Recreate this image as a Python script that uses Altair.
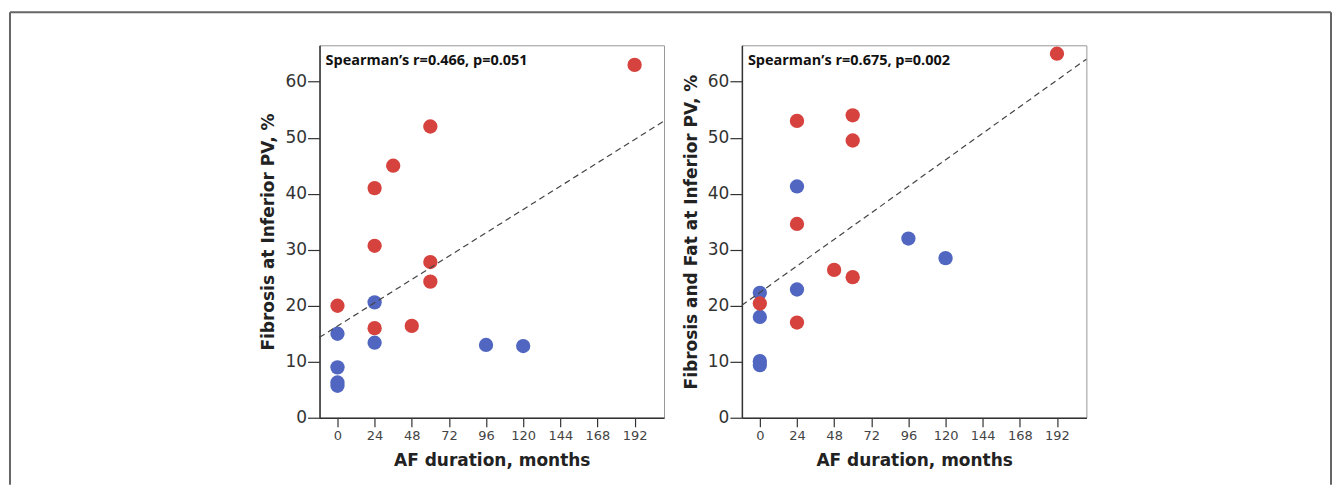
import altair as alt
import pandas as pd

# ---- data ----
p1_red_x = [192, 60, 36, 24, 24, 60, 60, 0, 24, 48]
p1_red_y = [63.0, 52.0, 45.0, 41.0, 30.7, 27.8, 24.3, 20.0, 16.0, 16.4]
p1_blue_x = [24, 0, 24, 96, 120, 0, 0, 0]
p1_blue_y = [20.6, 15.0, 13.4, 13.0, 12.8, 9.0, 6.3, 5.7]

p2_red_x = [192, 24, 60, 60, 24, 48, 60, 0, 24]
p2_red_y = [65.0, 53.0, 54.0, 49.5, 34.6, 26.4, 25.1, 20.4, 17.0]
p2_blue_x = [24, 96, 120, 0, 24, 0, 0, 0]
p2_blue_y = [41.3, 32.0, 28.5, 22.3, 22.9, 18.0, 10.1, 9.4]

x_ticks = [0, 24, 48, 72, 96, 120, 144, 168, 192]
y_ticks = [0, 10, 20, 30, 40, 50, 60]
x_title = "AF duration, months"
y_titles = ["Fibrosis at Inferior PV, %", "Fibrosis and Fat at Inferior PV, %"]
notes = ["Spearman\u2019s r=0.466, p=0.051", "Spearman\u2019s r=0.675, p=0.002"]

RED = "#D6423E"
BLUE = "#5066C0"
X_DOM = [-11.6, 211]
Y_DOM = [0, 66.5]
W, H = 345, 373


def frame(rx, ry, bx, by):
    rows = [{"x": a, "y": b, "g": "blue"} for a, b in zip(bx, by)]
    rows += [{"x": a, "y": b, "g": "red"} for a, b in zip(rx, ry)]
    return pd.DataFrame(rows)


def panel(df, ytitle, note, with_border=False):
    xs = alt.Scale(domain=X_DOM, nice=False, zero=False)
    ys = alt.Scale(domain=Y_DOM, nice=False)
    base = alt.Chart(df)
    pts = base.mark_point(filled=True, size=205, opacity=1).encode(
        x=alt.X("x:Q", scale=xs, title=x_title,
                axis=alt.Axis(values=x_ticks, tickSize=9, labelPadding=3,
                              labelFontSize=13, labelColor="#444",
                              titlePadding=10, grid=False)),
        y=alt.Y("y:Q", scale=ys, title=ytitle,
                axis=alt.Axis(values=y_ticks, tickSize=12, labelPadding=1,
                              labelFontSize=17, labelColor="#333",
                              titlePadding=7, grid=False)),
        color=alt.Color("g:N", scale=alt.Scale(domain=["blue", "red"],
                                               range=[BLUE, RED]), legend=None),
    )
    fit = base.transform_regression("x", "y", extent=X_DOM).mark_line(
        color="#444", strokeDash=[6, 4], strokeWidth=1.2
    ).encode(x=alt.X("x:Q", scale=xs), y=alt.Y("y:Q", scale=ys))
    txt = alt.Chart(alt.Data(values=[{}])).mark_text(
        align="left", baseline="middle", font="Open Sans", fontWeight="bold",
        fontSize=14.5, color="#111"
    ).encode(x=alt.value(6), y=alt.value(16), text=alt.value(note))
    layers = [pts, fit, txt]
    if with_border:
        one = alt.Data(values=[{}])
        sty = dict(color="#666", strokeWidth=2)
        layers += [
            alt.Chart(one).mark_rule(**sty).encode(
                x=alt.value(-310), y=alt.value(-33), y2=alt.value(440)),
            alt.Chart(one).mark_rule(**sty).encode(
                x=alt.value(-310), x2=alt.value(1013), y=alt.value(-33)),
            alt.Chart(one).mark_rule(**sty).encode(
                x=alt.value(1013), y=alt.value(-33), y2=alt.value(440)),
        ]
    return alt.layer(*layers).properties(width=W, height=H)


c1 = panel(frame(p1_red_x, p1_red_y, p1_blue_x, p1_blue_y), y_titles[0], notes[0], True)
c2 = panel(frame(p2_red_x, p2_red_y, p2_blue_x, p2_blue_y), y_titles[1], notes[1])

chart = alt.hconcat(c1, c2, spacing=78, bounds="flush").properties(
    padding={"left": 0, "top": 2, "right": 0, "bottom": 0},
    background="white",
).configure_view(stroke="#999", strokeWidth=1).configure_axis(
    grid=False, domainColor="#333", domainWidth=1.5, tickColor="#333",
    tickWidth=1.2, labelFont="DejaVu Sans", titleFont="DejaVu Sans",
    titleFontSize=17, titleFontWeight="bold", titleColor="#222"
)

chart.save("out.html", embed_options={"renderer": "svg", "actions": False})
